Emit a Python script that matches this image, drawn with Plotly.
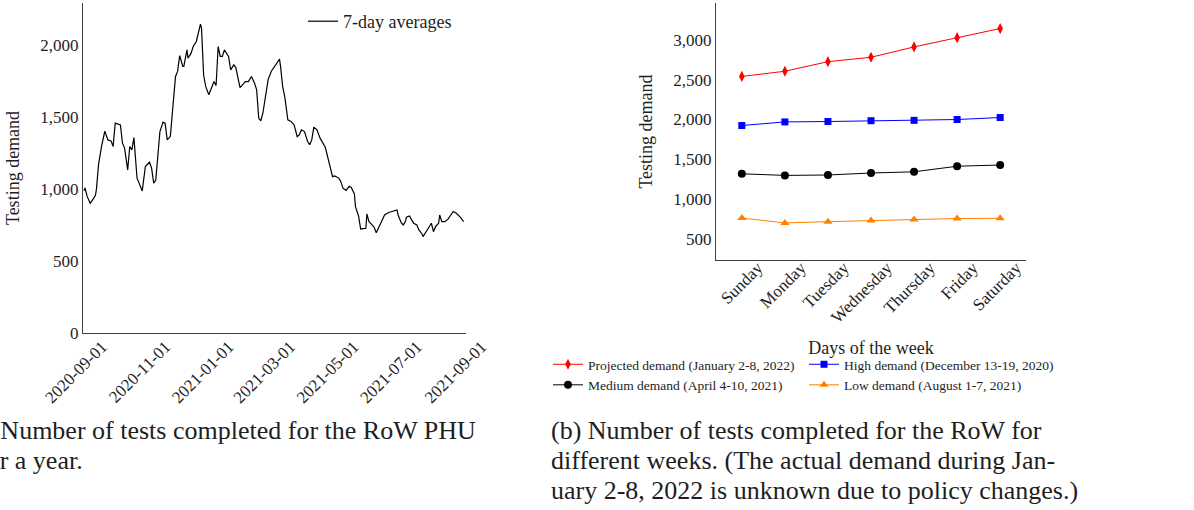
import pandas as pd
import plotly.graph_objects as go

# ---------------- data ----------------
start_date = "2020-09-01"
day_offsets = [
    0, 1, 3, 5, 6, 8, 11, 12, 14, 17,
    20, 23, 26, 28, 30, 35, 37, 39, 42, 44,
    46, 48, 51, 53, 56, 59, 63, 65, 67, 69,
    73, 76, 78, 80, 83, 88, 90, 92, 95, 96,
    99, 100, 103, 105, 108, 112, 113, 115, 117, 120,
    123, 125, 127, 129, 131, 133, 135, 139, 141, 144,
    146, 150, 153, 155, 158, 161, 164, 166, 168, 170,
    172, 175, 177, 180, 184, 185, 188, 189, 191, 193,
    196, 199, 202, 205, 207, 209, 212, 215, 217, 219,
    221, 224, 227, 232, 234, 237, 239, 241, 245, 247,
    249, 252, 255, 257, 260, 261, 264, 266, 269, 271,
    272, 274, 277, 279, 281, 284, 286, 289, 293, 297,
    301, 302, 305, 307, 309, 310, 313, 315, 317, 320,
    322, 325, 326, 330, 332, 334, 336, 338, 341, 342,
    344, 347, 350, 353, 355, 358, 362, 365,
]
avg_demand = [
    986, 1007, 948, 920, 900, 920, 955, 1000, 1170, 1300,
    1400, 1340, 1333, 1294, 1456, 1444, 1317, 1283, 1132, 1294,
    1271, 1356, 1074, 1040, 986, 1155, 1185, 1144, 1040, 1062,
    1398, 1463, 1456, 1340, 1363, 1780, 1815, 1925, 1850, 1850,
    1965, 1907, 1942, 1988, 2023, 2143, 2116, 1792, 1711, 1653,
    1711, 1745, 1717, 1988, 1919, 1919, 1965, 1919, 1826, 1861,
    1842, 1703, 1727, 1745, 1745, 1780, 1734, 1687, 1491, 1472,
    1525, 1676, 1757, 1815, 1861, 1873, 1900, 1850, 1711, 1641,
    1479, 1468, 1444, 1363, 1375, 1410, 1398, 1329, 1306, 1340,
    1428, 1410, 1352, 1289, 1224, 1144, 1085, 1090, 1075, 1050,
    1005, 990, 1018, 1010, 965, 877, 812, 722, 727, 727,
    826, 773, 750, 734, 696, 738, 773, 819, 836, 843,
    854, 819, 766, 750, 773, 803, 812, 785, 762, 750,
    715, 687, 669, 715, 738, 762, 703, 738, 762, 819,
    773, 773, 790, 819, 843, 831, 803, 773,
]

weekdays = ["Sunday", "Monday", "Tuesday", "Wednesday", "Thursday", "Friday", "Saturday"]
projected_demand = [2540, 2605, 2725, 2780, 2910, 3025, 3140]
high_demand = [1925, 1970, 1975, 1985, 1990, 2000, 2025]
medium_demand = [1320, 1300, 1305, 1330, 1345, 1415, 1430]
low_demand = [765, 705, 720, 735, 748, 760, 762]

series_names = [
    "Projected demand (January 2-8, 2022)",
    "High demand (December 13-19, 2020)",
    "Medium demand (April 4-10, 2021)",
    "Low demand (August 1-7, 2021)",
]

caption_a = ["(a) Number of tests completed for the RoW PHU", "for a year."]
caption_b = [
    "(b) Number of tests completed for the RoW for",
    "different weeks. (The actual demand during Jan-",
    "uary 2-8, 2022 is unknown due to policy changes.)",
]

# ---------------- layout helpers ----------------
W, H = 1194, 510
FONT = "Liberation Serif"
TXT = "#1e1e1e"
AX = "#404040"


def px_x(p):
    return p / W


def px_y(p):
    return 1 - p / H


t0 = pd.Timestamp(start_date)
dates = [t0 + pd.Timedelta(days=d) for d in day_offsets]

fig = go.Figure()

fig.add_trace(go.Scatter(
    x=dates, y=avg_demand, mode="lines", name="7-day averages",
    line=dict(color="black", width=1.2), xaxis="x", yaxis="y", legend="legend",
))

styles = [
    ("#ff0000", "diamond-tall", 8, "legend2"),
    ("#0000ff", "square", 7, "legend3"),
    ("#000000", "circle", 8, "legend2"),
    ("#ff8000", "triangle-up", 8, "legend3"),
]
for name, vals, (col, sym, sz, lg) in zip(
        series_names, [projected_demand, high_demand, medium_demand, low_demand], styles):
    fig.add_trace(go.Scatter(
        x=weekdays, y=vals, mode="lines+markers", name=name,
        line=dict(color=col, width=1), marker=dict(color=col, symbol=sym, size=sz),
        xaxis="x2", yaxis="y2", legend=lg,
    ))

axis_common = dict(
    showgrid=False, zeroline=False, showline=True, linecolor=AX, linewidth=1.3,
    ticks="", tickfont=dict(family=FONT, size=17, color=TXT),
    mirror=False, automargin=False,
)

fig.update_layout(
    width=W, height=H, autosize=False,
    margin=dict(l=0, r=0, t=0, b=0, autoexpand=False),
    paper_bgcolor="white", plot_bgcolor="white",
    font=dict(family=FONT, color=TXT),
    xaxis=dict(
        **axis_common, domain=[px_x(83), px_x(466)], anchor="y",
        type="date",
        range=[t0 - pd.Timedelta(hours=23), t0 + pd.Timedelta(days=367.3)],
        tick0=start_date, dtick="M2", tickformat="%Y-%m-%d", tickangle=-45,
        ticklabelshift=18, ticklabelstandoff=-4,
    ),
    yaxis=dict(
        **axis_common, domain=[px_y(333), px_y(3)], anchor="x",
        range=[0, 2290], tickvals=[0, 500, 1000, 1500, 2000], tickformat=",d",
        title=dict(text="Testing demand", font=dict(family=FONT, size=18, color=TXT)),
    ),
    xaxis2=dict(
        **axis_common, domain=[px_x(716), px_x(1026)], anchor="y2",
        type="category", range=[-0.6, 6.6], tickangle=-45,
        ticklabelshift=16, ticklabelstandoff=-10,
        title=dict(text="Days of the week", font=dict(family=FONT, size=18, color=TXT)),
    ),
    yaxis2=dict(
        **axis_common, domain=[px_y(260), px_y(3)], anchor="x2",
        range=[240, 3460], tickvals=[500, 1000, 1500, 2000, 2500, 3000], tickformat=",d",
        title=dict(text="Testing demand", font=dict(family=FONT, size=18, color=TXT)),
    ),
    legend=dict(
        x=px_x(303), y=px_y(3), xanchor="left", yanchor="top",
        bgcolor="rgba(0,0,0,0)", font=dict(family=FONT, size=18, color=TXT),
    ),
    legend2=dict(
        x=px_x(548), y=px_y(349), xanchor="left", yanchor="top",
        bgcolor="rgba(0,0,0,0)", font=dict(family=FONT, size=13.5, color=TXT),
        tracegroupgap=0,
    ),
    legend3=dict(
        x=px_x(804), y=px_y(349), xanchor="left", yanchor="top",
        bgcolor="rgba(0,0,0,0)", font=dict(family=FONT, size=13.5, color=TXT),
        tracegroupgap=0,
    ),
    showlegend=True,
)

cap_font = dict(family=FONT, size=26, color=TXT)
annots = [
    dict(text=caption_a[0], x=px_x(-37), y=px_y(430)),
    dict(text=caption_a[1], x=px_x(-24), y=px_y(460)),
]
for i, line in enumerate(caption_b):
    annots.append(dict(text=line, x=px_x(549), y=px_y(430 + 30 * i)))
for a in annots:
    fig.add_annotation(**a, xref="paper", yref="paper", xanchor="left", yanchor="middle",
                       showarrow=False, font=cap_font, align="left")

fig.write_html("out.html", config={"displayModeBar": False},
               post_script="document.body.style.margin='0px';")
